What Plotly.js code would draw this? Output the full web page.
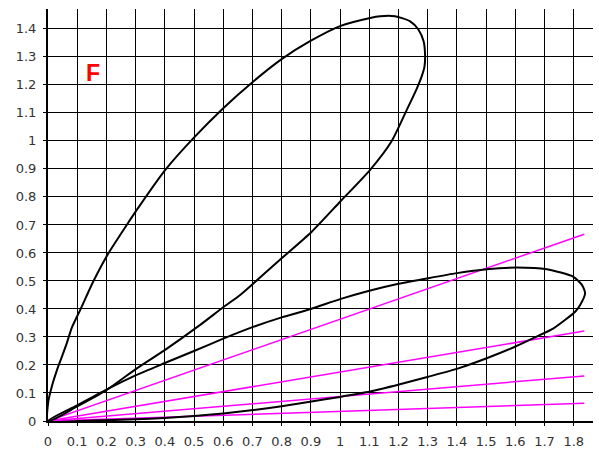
<!DOCTYPE html>
<html>
<head>
<meta charset="utf-8">
<script src="https://cdn.plot.ly/plotly-3.0.1.min.js"></script>
<style>html,body{margin:0;padding:0;background:#fff;}#chart{width:599px;height:450px;}</style>
</head>
<body>
<div id="chart"></div>
<script>
// Upper loop
const loopAX = [0, 0.001, 0.015, 0.03, 0.047, 0.065, 0.081, 0.11, 0.155, 0.207, 0.281, 0.304, 0.401, 0.498, 0.600, 0.698, 0.800, 0.897, 1.0, 1.103, 1.137, 1.188, 1.240, 1.268, 1.286, 1.291, 1.289, 1.280, 1.262, 1.228, 1.177, 1.103, 1.0, 0.903, 0.800, 0.703, 0.658, 0.600, 0.521, 0.401, 0.304, 0.201, 0.098, 0];
const loopAY = [0, 0.069, 0.13, 0.18, 0.228, 0.28, 0.332, 0.396, 0.498, 0.599, 0.718, 0.754, 0.896, 1.010, 1.117, 1.208, 1.292, 1.356, 1.410, 1.439, 1.445, 1.445, 1.427, 1.398, 1.356, 1.308, 1.265, 1.232, 1.185, 1.11, 1.0, 0.897, 0.783, 0.676, 0.581, 0.491, 0.45, 0.406, 0.343, 0.254, 0.188, 0.111, 0.051, 0];
// Lower loop
const loopBX = [0, 0.098, 0.2, 0.3, 0.4, 0.5, 0.6, 0.7, 0.8, 0.9, 1.0, 1.1, 1.2, 1.302, 1.4, 1.502, 1.605, 1.708, 1.799, 1.828, 1.839, 1.822, 1.805, 1.731, 1.668, 1.599, 1.502, 1.405, 1.302, 1.205, 1.103, 1.0, 0.897, 0.8, 0.703, 0.6, 0.5, 0.4, 0.3, 0.15, 0];
const loopBY = [0, 0.055, 0.112, 0.163, 0.207, 0.25, 0.294, 0.335, 0.37, 0.40, 0.435, 0.465, 0.49, 0.510, 0.528, 0.542, 0.548, 0.542, 0.515, 0.486, 0.456, 0.414, 0.390, 0.331, 0.299, 0.265, 0.224, 0.188, 0.158, 0.131, 0.105, 0.086, 0.069, 0.053, 0.039, 0.027, 0.018, 0.011, 0.006, 0.002, 0];
// Rays from origin (end points)
const rayEndX = 1.836;
const rayEndY = [0.667, 0.321, 0.161, 0.063];
const labelText = "F";

const traces = [];
rayEndY.forEach(function (ye) {
  traces.push({
    x: [0, rayEndX], y: [0, ye], mode: 'lines', type: 'scatter',
    line: {color: '#ff00ff', width: 1.5}, hoverinfo: 'skip', showlegend: false
  });
});
[[loopAX, loopAY], [loopBX, loopBY]].forEach(function (p) {
  traces.push({
    x: p[0], y: p[1], mode: 'lines', type: 'scatter',
    line: {color: '#000000', width: 2, shape: 'spline', smoothing: 0.6},
    showlegend: false
  });
});

const axisCommon = {
  dtick: 0.1, tick0: 0, showgrid: true, gridcolor: '#000000', gridwidth: 1,
  zeroline: false, showline: true, linecolor: '#000000', linewidth: 2,
  ticks: 'outside', ticklen: 3, tickcolor: '#000000',
  tickfont: {family: 'DejaVu Sans, Arial, sans-serif', size: 13, color: '#333333'},
  automargin: false, fixedrange: true
};

const layout = {
  width: 599, height: 450,
  margin: {l: 48, r: 6, t: 9, b: 29, pad: 0},
  paper_bgcolor: '#ffffff', plot_bgcolor: '#ffffff',
  showlegend: false,
  xaxis: Object.assign({}, axisCommon, {range: [0, 1.866], ticklabelstandoff: 4}),
  yaxis: Object.assign({}, axisCommon, {range: [0, 1.471], ticklabelstandoff: 4}),
  annotations: [{
    x: 0.154, y: 1.243, xref: 'x', yref: 'y', text: labelText, showarrow: false,
    font: {family: 'Liberation Sans, Arial, sans-serif', size: 23, color: '#ff0000', weight: 'bold'}
  }]
};

Plotly.newPlot('chart', traces, layout, {displayModeBar: false, staticPlot: true});
</script>
</body>
</html>
